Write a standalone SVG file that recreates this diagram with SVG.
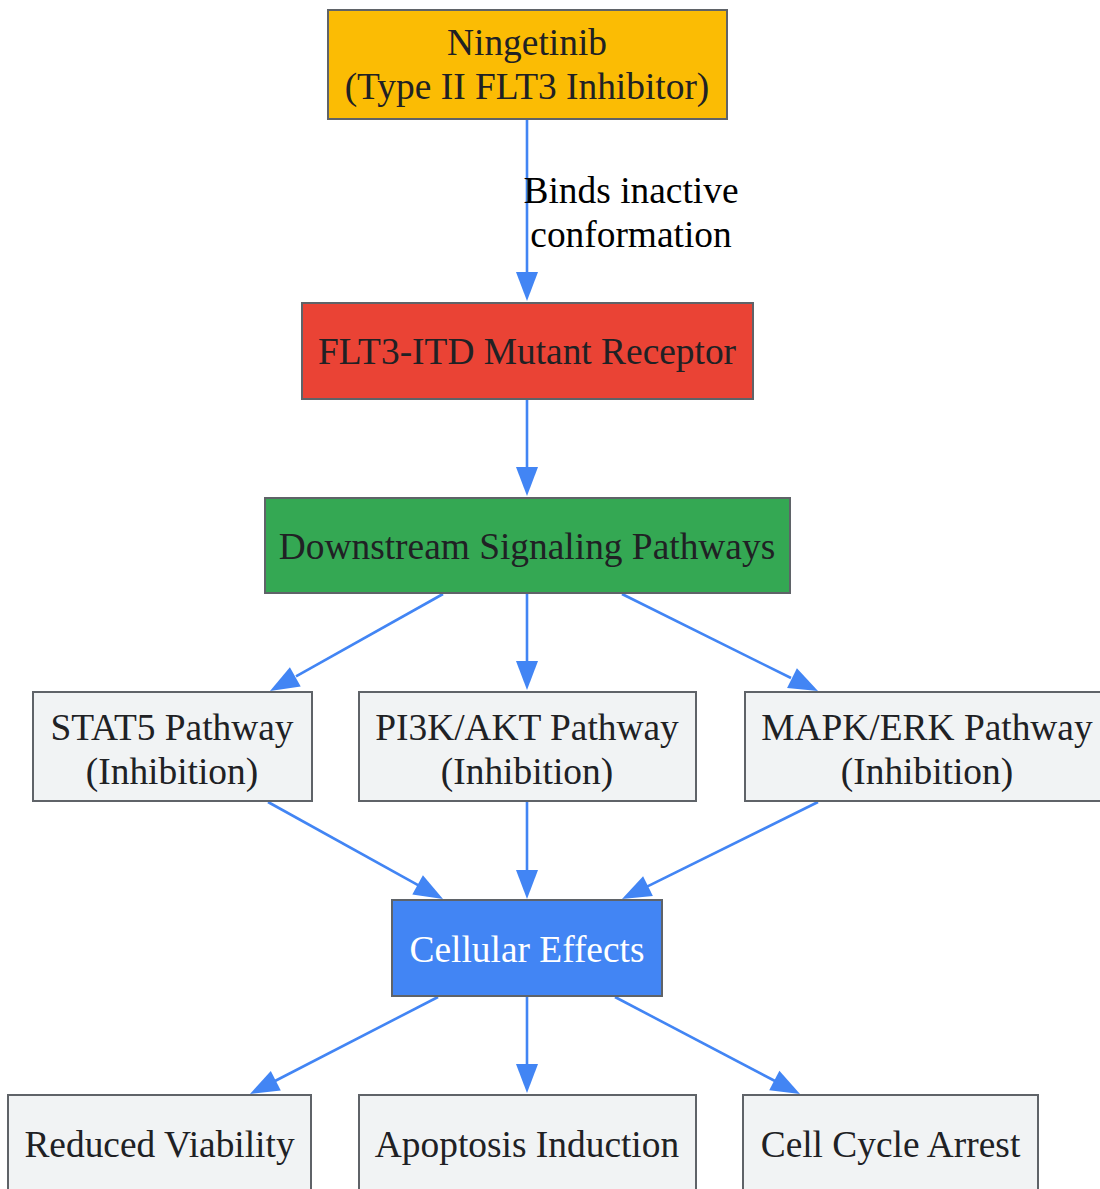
<svg xmlns="http://www.w3.org/2000/svg" width="1100" height="1189" viewBox="0 0 1100 1189">
<style>
.n{stroke:#5f6368;stroke-width:2}
.t{font-family:"Liberation Serif","Times New Roman",serif;font-size:37.4px;fill:#202124;text-anchor:middle}
.w{fill:#ffffff}
.e{stroke:#4285F4;stroke-width:2.6;fill:none}
.h{fill:#4285F4}
.l{font-family:"Liberation Serif","Times New Roman",serif;font-size:37.4px;fill:#000000;text-anchor:middle}
</style>
<rect width="1100" height="1189" fill="#ffffff"/>
<g id="edges">
<path d="M527,120 L527,274" class="e"/>
<path class="h" d="M516,272 L538,272 L527,301 z"/>
<text class="l" x="631" y="203">Binds inactive</text>
<text class="l" x="631" y="247">conformation</text>
<path d="M527,400 L527,469" class="e"/>
<path class="h" d="M516,467 L538,467 L527,496 z"/>
<path d="M443,594 L296,676.4" class="e"/>
<path class="h" d="M300.7,686.4 L289.9,667.2 L270,691 z"/>
<path d="M527,594 L527,663" class="e"/>
<path class="h" d="M516,661 L538,661 L527,690 z"/>
<path d="M622,594 L791,678" class="e"/>
<path class="h" d="M787.1,688 L796.9,668.2 L818,691 z"/>
<path d="M268,802 L418.5,885.4" class="e"/>
<path class="h" d="M412.3,894.5 L422.9,875.3 L443,899 z"/>
<path d="M527,802 L527,872" class="e"/>
<path class="h" d="M516,870 L538,870 L527,899 z"/>
<path d="M818,802 L647,886.6" class="e"/>
<path class="h" d="M652.9,896 L643.1,876.2 L622,899 z"/>
<path d="M438,997 L275,1081" class="e"/>
<path class="h" d="M280.8,1090.5 L270.8,1070.9 L250,1094 z"/>
<path d="M527,997 L527,1066" class="e"/>
<path class="h" d="M516,1064 L538,1064 L527,1093 z"/>
<path d="M615,997 L775,1081" class="e"/>
<path class="h" d="M769.2,1090.2 L779.4,1070.8 L800,1094 z"/>
</g>
<g id="ningetinib">
<rect class="n" x="328" y="10" width="399" height="109" fill="#FBBC04"/>
<text class="t" x="527" y="55">Ningetinib</text>
<text class="t" x="527" y="99">(Type II FLT3 Inhibitor)</text>
</g>
<g id="flt3">
<rect class="n" x="302" y="303" width="451" height="96" fill="#EA4335"/>
<text class="t" x="527" y="364">FLT3-ITD Mutant Receptor</text>
</g>
<g id="downstream">
<rect class="n" x="265" y="498" width="525" height="95" fill="#34A853"/>
<text class="t" x="527" y="559">Downstream Signaling Pathways</text>
</g>
<g id="stat5">
<rect class="n" x="33" y="692" width="279" height="109" fill="#F1F3F4"/>
<text class="t" x="172" y="740">STAT5 Pathway</text>
<text class="t" x="172" y="784">(Inhibition)</text>
</g>
<g id="pi3k">
<rect class="n" x="359" y="692" width="337" height="109" fill="#F1F3F4"/>
<text class="t" x="527" y="740">PI3K/AKT Pathway</text>
<text class="t" x="527" y="784">(Inhibition)</text>
</g>
<g id="mapk">
<rect class="n" x="745" y="692" width="364" height="109" fill="#F1F3F4"/>
<text class="t" x="927" y="740">MAPK/ERK Pathway</text>
<text class="t" x="927" y="784">(Inhibition)</text>
</g>
<g id="cellular">
<rect class="n" x="392" y="900" width="270" height="96" fill="#4285F4"/>
<text class="t w" x="527" y="962">Cellular Effects</text>
</g>
<g id="viability">
<rect class="n" x="8" y="1095" width="303" height="96" fill="#F1F3F4"/>
<text class="t" x="159.5" y="1157">Reduced Viability</text>
</g>
<g id="apoptosis">
<rect class="n" x="359" y="1095" width="337" height="96" fill="#F1F3F4"/>
<text class="t" x="527" y="1157">Apoptosis Induction</text>
</g>
<g id="cellcycle">
<rect class="n" x="743" y="1095" width="295" height="96" fill="#F1F3F4"/>
<text class="t" x="890.5" y="1157">Cell Cycle Arrest</text>
</g>
</svg>
